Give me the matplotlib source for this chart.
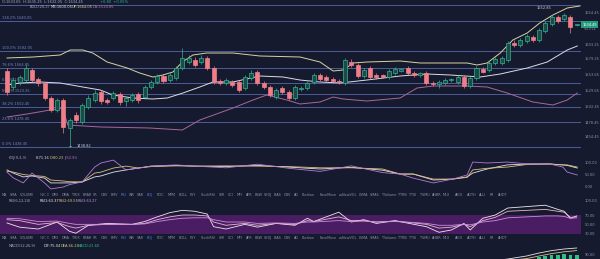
import matplotlib
matplotlib.use("Agg")
import matplotlib.pyplot as plt
import numpy as np

# ---------------- data ----------------
opens = [1560.05,1534.45,1542.45,1545.65,1561.65,1547.25,1540.85,1516.85,1497.65,1513.65,
         1468.85,1489.65,1478.45,1502.45,1513.65,1526.45,1513.65,1516.85,1523.25,1512.05,
         1513.65,1523.25,1518.45,1534.45,1542.45,1552.05,1545.65,1548.85,1564.85,1574.45,
         1577.65,1574.45,1580.85,1564.85,1544.05,1540.85,1542.45,1542.45,1532.85,1548.85,
         1558.45,1540.85,1534.45,1518.45,1532.85,1526.45,1516.85,1531.25,1532.85,1542.45,
         1553.65,1550.45,1547.25,1544.05,1540.85,1574.45,1569.65,1552.05,1564.85,1553.65,
         1553.65,1550.45,1556.85,1560.05,1564.85,1556.85,1553.65,1556.85,1540.85,1539.25,
         1540.85,1545.65,1542.45,1550.45,1536.05,1548.85,1563.25,1561.65,1572.85,1572.85,
         1577.65,1604.85,1601.65,1608.05,1614.45,1609.65,1624.05,1635.25,1646.45,1643.25,
         1646.45,1633.65]
closes = [1526.45,1545.65,1550.45,1564.85,1545.65,1540.85,1516.85,1497.65,1513.65,1470.45,
          1481.65,1481.65,1505.65,1516.85,1524.85,1512.05,1510.45,1524.85,1510.45,1516.85,
          1521.65,1513.65,1534.45,1542.45,1552.05,1544.05,1553.65,1564.85,1580.85,1580.85,
          1569.65,1580.85,1564.85,1542.45,1540.85,1545.65,1537.65,1529.65,1550.45,1556.85,
          1540.85,1534.45,1521.65,1529.65,1526.45,1516.85,1534.45,1532.85,1540.85,1553.65,
          1547.25,1545.65,1544.05,1542.45,1577.65,1569.65,1552.05,1561.65,1550.45,1550.45,
          1550.45,1560.05,1563.25,1563.25,1556.85,1553.65,1556.85,1540.85,1539.25,1542.45,
          1545.65,1547.25,1550.45,1536.05,1548.85,1564.85,1558.45,1572.85,1579.25,1580.85,
          1604.85,1601.65,1609.65,1616.05,1609.65,1625.65,1636.85,1646.45,1640.05,1649.65,
          1630.45,1634.45]
highs = [1564.85,1550.45,1553.65,1569.65,1564.85,1550.45,1542.45,1520.05,1516.85,1516.85,
         1484.85,1494.45,1508.85,1521.65,1529.65,1529.65,1516.85,1528.05,1526.45,1520.05,
         1524.85,1526.45,1537.65,1545.65,1555.25,1555.25,1558.45,1568.05,1596.85,1585.65,
         1582.45,1585.65,1584.05,1568.05,1547.25,1548.85,1545.65,1545.65,1553.65,1561.65,
         1561.65,1544.05,1537.65,1532.85,1536.05,1529.65,1537.65,1536.05,1544.05,1556.85,
         1556.85,1553.65,1550.45,1547.25,1580.85,1579.25,1572.85,1564.85,1568.05,1556.85,
         1555.25,1563.25,1566.45,1564.85,1568.05,1560.05,1558.45,1560.05,1544.05,1545.65,
         1548.85,1548.85,1553.65,1553.65,1552.05,1568.05,1566.45,1576.05,1582.45,1584.05,
         1608.05,1609.65,1612.85,1619.25,1617.65,1628.85,1640.05,1649.65,1649.65,1652.85,
         1649.65,1635.25]
lows = [1521.65,1529.65,1537.65,1542.45,1542.45,1536.05,1513.65,1494.45,1494.45,1460.85,
        1438.82,1476.85,1475.25,1499.25,1510.45,1507.25,1507.25,1513.65,1505.65,1504.05,
        1510.45,1508.85,1515.25,1531.25,1539.25,1540.85,1542.45,1545.65,1561.65,1571.25,
        1566.45,1571.25,1561.65,1539.25,1537.65,1537.65,1534.45,1526.45,1529.65,1545.65,
        1537.65,1531.25,1518.45,1515.25,1523.25,1513.65,1513.65,1528.05,1529.65,1539.25,
        1544.05,1542.45,1540.85,1539.25,1537.65,1566.45,1548.85,1548.85,1547.25,1547.25,
        1548.85,1547.25,1553.65,1558.45,1553.65,1550.45,1550.45,1537.65,1536.05,1532.85,
        1537.65,1542.45,1539.25,1532.85,1532.85,1545.65,1556.85,1558.45,1569.65,1569.65,
        1574.45,1598.45,1598.45,1604.85,1606.45,1606.45,1620.85,1632.05,1636.85,1640.05,
        1620.85,1632.05]

# Bollinger band traces (candle index, price)
boll_up_idx = [0,4.2,8.5,10.1,12.1,13.7,16.0,19.2,21.2,23.3,24.9,26.5,28.0,29.7,31.9,36.1,40.4,
               46.8,50.0,52.1,53.7,55.3,57.5,62.8,66.0,73.5,75.1,76.7,78.8,80.8,83.1,85.1,87.2,89.5,91.5]
boll_up = [1580.85,1582.45,1585.65,1593.65,1593.65,1588.85,1574.45,1564.85,1556.85,1550.45,1553.65,
           1558.45,1574.45,1585.65,1588.85,1588.85,1584.05,1582.45,1574.45,1560.05,1561.65,1572.85,
           1574.45,1576.05,1572.85,1572.85,1569.65,1572.85,1588.85,1609.65,1620.85,1636.85,1649.65,
           1660.85,1664.05]
boll_mid_idx = [0,2.1,5.3,8.5,12.1,14.9,16.9,20.1,23.3,25.6,28.1,30.8,32.9,36.1,40.4,44.1,46.8,
                50.0,53.2,57.5,62.8,67.1,70.8,75.6,78.8,83.1,86.3,89.5,91.1]
boll_mid = [1537.65,1540.85,1542.45,1540.85,1534.45,1529.65,1521.65,1516.85,1515.25,1516.85,1524.85,
            1534.45,1542.45,1542.45,1552.05,1550.45,1545.65,1542.45,1540.85,1545.65,1552.05,1555.25,
            1553.65,1550.45,1555.25,1564.85,1574.45,1593.65,1600.05]
boll_dn_idx = [0,3.2,6.9,8.9,9.7,14.9,22.8,28.0,30.8,36.1,39.3,41.5,44.7,46.8,50.0,52.1,53.7,
               57.5,62.8,65.5,68.1,73.5,76.7,79.9,84.0,87.2,89.5,91.1]
boll_dn = [1486.45,1491.25,1497.65,1500.85,1473.65,1470.45,1468.85,1465.65,1481.65,1500.85,1513.65,
           1521.65,1513.65,1507.25,1510.45,1518.45,1515.25,1512.05,1516.85,1532.85,1536.05,1536.05,
           1534.45,1524.85,1510.45,1505.65,1513.65,1524.85]

fib_labels = ["", "138.2%", "100.0%", "78.6%", "61.8%", "50.0%", "38.2%", "23.6%", "0.0%"]
fib_prices = [1665.65, 1640.05, 1592.05, 1564.85, 1540.85, 1523.25, 1502.45, 1478.45, 1438.45]

price_ticks = [1654.45, 1603.25, 1579.25, 1553.65, 1529.65, 1502.45, 1478.45, 1454.45]

# KDJ panel
kdj_idx = [0,1,2.6,4,6,7,9,10,12,14,15,17,19,21,23,27,30,35,40,45,50,55,60,62.8,64.9,68.1,71.2,
           73.5,74.4,76.7,79.9,83.1,86.7,88.8,89.5,91.1]
kdj_k = [71,58,42,46,37,17,17,17,21,42,46,62,71,79,87,90,87,85,90,83,75,82,70,54,54,29,33,42,58,75,
         92,96,96,92,90,79]
kdj_d = [66,62,52,48,44,29,25,22,21,58,62,79,87,79,85,88,87,88,87,85,80,80,75,54,54,33,33,40,71,78,
         83,94,96,92,92,83]
kdj_j = [62,38,17,58,17,-8,0,10,21,83,100,112,71,79,87,92,87,80,95,78,65,88,60,54,37,17,33,50,104,100,
         104,96,96,83,62,50]

# RSI panel
rsi_idx = [0,2,5,8,10,11,13,16,20,22,24,26,28,30,32,33,35,38,40,43,46,48,49,53,55,57,59,62,65,67,69,
           71,73,74,76,78,80,83,86,88,89,90,91]
rsi1 = [53,44,40,55,35,31,48,52,50,56,66,75,80,78,72,45,40,50,44,52,48,63,56,76,55,60,52,58,50,45,33,
        38,52,38,63,70,85,88,91,82,78,63,68]
rsi2 = [60,58,50,54,45,42,48,50,50,52,60,66,70,70,68,55,48,52,48,52,50,58,56,66,58,58,55,57,53,50,42,
        44,50,45,58,65,78,80,82,78,76,65,66]
rsi3 = [63,62,56,57,52,50,50,50,50,51,56,60,63,64,64,60,55,55,52,53,52,55,55,58,56,57,55,56,54,52,48,
        48,50,49,55,58,64,66,68,68,67,63,64]

# MACD panel (visible tail only)
macd_idx = [78,80,83,85,87,89,91]
dif = [62,70,85,100,112,120,125]
dea = [58,62,72,85,97,106,112]
hist_idx = [85,86,87,88,89,90,91]
hist = [6,9,12,15,16,15,14]

tool_labels = ["MA","SMA","VOLUME","MACD","DMI","DMA","TRIX","BRAR","VR","OBV","EMV","RSI","WR","SAR",
               "KDJ","ROC","MTM","BOLL","PSY","StochRSI","SMI","CCI","MFI","AFR","BBW","SKDJ","BIAS",
               "OBV","AO","Position","EaseMove","w-NewVOL","LSMA","SMAS","TVolume","TTRB","TTSI","TSMU",
               "AHBR","MLX","AVOI","AOTH","ALLI","FR","AHDT"]
tool_x = [2,10,20,40,52,62,72,83,93,101,111,121,129,137,147,157,168,179,190,201,219,228,237,246,255,
          264,274,284,294,302,320,339,359,370,382,398,409,420,432,443,455,467,479,490,498]

# ---------------- figure ----------------
W, H = 600, 259
BG = '#161a2e'
TXT = '#8c91a8'
GRID = '#4d5d96'
UP_FACE, UP_EDGE = '#1c4a47', '#33b38e'
DN = '#ef7e88'
PLOT_R = 581
X0, DX = 7.0, 6.26
xlim = (-X0 / DX, (PLOT_R - X0) / DX)

plt.rcParams['font.family'] = ['DejaVu Sans']
fig = plt.figure(figsize=(6, 2.59), dpi=100, facecolor=BG)
FS = 2.6


def ax_at(top, bot, ticks=True):
    a = fig.add_axes([0, 1 - bot / H, PLOT_R / W, (bot - top) / H])
    a.set_facecolor(BG)
    a.patch.set_alpha(0.0 if not ticks else 1.0)
    for s in a.spines.values():
        s.set_visible(False)
    a.set_xlim(*xlim)
    a.set_xticks([])
    a.yaxis.tick_right()
    a.tick_params(axis='y', length=0, pad=2.5, labelsize=FS, labelcolor=TXT)
    if not ticks:
        a.set_yticks([])
    return a


def ftext(x, y, s, color=TXT, size=FS, **kw):
    fig.text(x / W, 1 - y / H, s, color=color, fontsize=size, va='center', ha='left', **kw)


# main price panel
ax = ax_at(0, 150)
ax.set_ylim(1673.65 - 1.6 * 150, 1673.65)
ax.set_yticks(price_ticks)
ax.set_yticklabels([f"{v:.2f}" for v in price_ticks])

for lab, pr in zip(fib_labels, fib_prices):
    ax.axhline(pr, color=GRID, lw=0.7, zorder=1)
    if lab:
        ax.text(0.004, pr + 2.2, f"{lab} {pr:.2f}", transform=ax.get_yaxis_transform(),
                color='#7088c4', fontsize=FS, va='bottom', ha='left')

ax.plot(boll_up_idx, boll_up, color='#d8d3a2', lw=0.7, zorder=2)
ax.plot(boll_mid_idx, boll_mid, color='#dcdce6', lw=0.7, zorder=2)
ax.plot(boll_dn_idx, boll_dn, color='#a8679e', lw=0.7, zorder=2)

idx = np.arange(len(opens))
o = np.array(opens); c = np.array(closes)
hi = np.array(highs); lo = np.array(lows)
up = c >= o
ax.vlines(idx[up], lo[up], hi[up], color=UP_EDGE, lw=0.5, zorder=3)
ax.vlines(idx[~up], lo[~up], hi[~up], color=DN, lw=0.5, zorder=3)
body = np.maximum(np.abs(c - o), 1.0)
ax.bar(idx[up], body[up], bottom=np.minimum(o, c)[up], width=0.64,
       color=UP_FACE, edgecolor=UP_EDGE, linewidth=0.5, zorder=4)
ax.bar(idx[~up], body[~up], bottom=np.minimum(o, c)[~up], width=0.64,
       color=DN, edgecolor=DN, linewidth=0.5, zorder=4)

# min / max markers
imin = int(np.argmin(lo)); imax = int(np.argmax(hi))
ax.annotate(f"{lo[imin]:.2f}", xy=(imin, lo[imin]), xytext=(imin + 1.2, lo[imin] + 2),
            color='#c9cbd6', fontsize=FS, va='center', ha='left',
            arrowprops=dict(arrowstyle='-', color='#c9cbd6', lw=0.4))
ax.text(imax - 3.2, hi[imax] + 5, f"{hi[imax]:.2f}", color='#c9cbd6', fontsize=FS, ha='center', va='bottom')

# last price tag
yt = ax.get_yaxis_transform()
ax.text(1.002, closes[-1], f"{closes[-1]:.2f}", transform=yt, color='white', fontsize=FS,
        va='center', ha='left', clip_on=False,
        bbox=dict(boxstyle='square,pad=0.3', fc='#1f9e7c', ec='none'))
ax.text(1.004, closes[-1] - 6.8, "1619.14", transform=yt, color=TXT, fontsize=FS * 0.85,
        va='center', ha='left', clip_on=False)

# top legends
ftext(2, 1.8, "O:1633.65  H:1635.25  L:1632.05  C:1634.45", color='#a8acbf')
ftext(100, 1.8, "+0.80  +0.05%", color='#33b38e')
ftext(30, 7.5, "BOLL(20,2)", color='#a8acbf')
ftext(51, 7.5, f"MB:{boll_mid[-1]:.2f}", color='#dcdce6')
ftext(72, 7.5, f"UP:{boll_up[-1]:.2f}", color='#d8d3a2')
ftext(93, 7.5, f"DN:{boll_dn[-1]:.2f}", color='#b87ab0')

# KDJ panel
ak = ax_at(150, 193)
ak.set_ylim(-25, (187 - 150) / 0.24)
ak.set_yticks([0, 50, 100]); ak.set_yticklabels(["0.00", "50.00", "100.00"])
ak.plot(kdj_idx, kdj_k, color='#e2e2ea', lw=0.6)
ak.plot(kdj_idx, kdj_d, color='#d9c07c', lw=0.6)
ak.plot(kdj_idx, kdj_j, color='#b37ad6', lw=0.6)
ftext(9, 158, "KDJ(9,3,3)", color='#a8acbf')
ftext(36, 158, "K:71.16", color='#e2e2ea')
ftext(50, 158, "D:80.23", color='#d9c07c')
ftext(64, 158, "J:52.93", color='#b37ad6')

# tool label rows
for y_row in (195, 238):
    for lab, x in zip(tool_labels, tool_x):
        col = '#5a5f78' if lab == "MACD" else ('#4f7fe6' if lab in ("RSI", "KDJ") else TXT)
        ftext(x, y_row, lab, color=col, size=2.4)

# RSI panel
ar = ax_at(197, 236)
ar.set_ylim((247.7 - 236) / 0.467, (247.7 - 197) / 0.467)
ar.axhspan(30, 70, color='#4a1d62', lw=0, zorder=0)
ar.set_yticks([30, 50, 70, 100]); ar.set_yticklabels(["30.00", "50.00", "70.00", "100.00"])
ar.plot(rsi_idx, rsi1, color='#ece6f0', lw=0.6)
ar.plot(rsi_idx, rsi2, color='#e6b9c9', lw=0.6)
ar.plot(rsi_idx, rsi3, color='#c38fe0', lw=0.6)
ftext(9, 201, "RSI(6,12,24)", color='#a8acbf')
ftext(40, 201, "RSI1:63.37", color='#ece6f0')
ftext(59, 201, "RSI2:69.55", color='#d9c07c')
ftext(78, 201, "RSI3:63.27", color='#c38fe0')

# MACD panel: lines on one axes, histogram on an overlaid axes with its own scale
am = ax_at(241, 259)
am.set_ylim(70, 160)
am.set_yticks([90]); am.set_yticklabels(["90.00"])
ah = ax_at(241, 259, ticks=False)
ah.set_ylim(0, 60)
ah.bar(hist_idx, hist, width=0.6, color='#2ebd85', zorder=1)
am.set_zorder(ah.get_zorder() + 1)
am.patch.set_alpha(0.0)
am.plot(macd_idx, dif, color='#e2e2ea', lw=0.6)
am.plot(macd_idx, dea, color='#d9c07c', lw=0.6)
ah.set_facecolor(BG); ah.patch.set_alpha(1.0)
ftext(9, 246, "MACD(12,26,9)", color='#a8acbf')
ftext(44, 246, "DIF:75.04", color='#e2e2ea')
ftext(61, 246, "DEA:66.24", color='#d9c07c')
ftext(78, 246, "MACD:21.60", color='#2ebd85')

fig.savefig("out.png", dpi=100, facecolor=BG)
